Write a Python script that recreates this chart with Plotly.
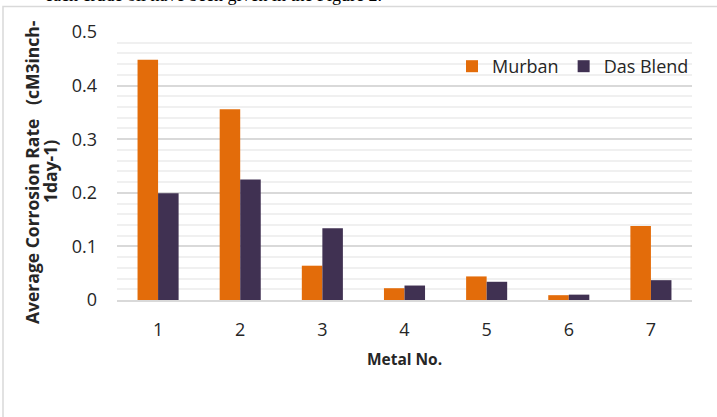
import plotly.graph_objects as go

metals = ["1", "2", "3", "4", "5", "6", "7"]
murban = [0.448, 0.356, 0.064, 0.022, 0.044, 0.009, 0.138]
das_blend = [0.199, 0.225, 0.134, 0.027, 0.034, 0.010, 0.037]

y_title_lines = ["Average Corrosion Rate   (cM3inch-", "1day-1)"]

ORANGE = "#E36C0A"
PURPLE = "#403152"
FONT = "Open Sans"
TXT = "#262626"

W, H = 717, 417
ML, MR, MT, MB = 117, 25, 32, 117
PW, PH = W - ML - MR, H - MT - MB


def px_x(x):
    return (x - ML) / PW


def px_y(y):
    return (H - MB - y) / PH


fig = go.Figure()
fig.add_trace(go.Bar(x=metals, y=murban, name="Murban", marker=dict(color=ORANGE, line=dict(width=0))))
fig.add_trace(go.Bar(x=metals, y=das_blend, name="Das Blend", marker=dict(color=PURPLE, line=dict(width=0))))

fig.update_layout(
    width=W, height=H,
    margin=dict(l=ML, r=MR, t=MT, b=MB, autoexpand=False),
    paper_bgcolor="white", plot_bgcolor="white",
    barmode="group", bargap=0.5, bargroupgap=0,
    font=dict(family=FONT, size=18, color=TXT),
    legend=dict(orientation="h", x=px_x(452), y=px_y(48), xanchor="left", yanchor="top",
                font=dict(size=18, color=TXT), bgcolor="rgba(0,0,0,0)",
                itemwidth=30, tracegroupgap=0),
    showlegend=True,
)

fig.update_xaxes(
    type="category", showgrid=False, showline=True, linecolor="#D9D9D9", linewidth=1.5,
    ticks="", tickfont=dict(size=18, color=TXT), ticklabelstandoff=13,
    title=dict(text="<b>Metal No.</b>", font=dict(size=15.5, color=TXT), standoff=14),
)
fig.update_yaxes(
    range=[0, 0.5], dtick=0.1, showline=False, zeroline=False,
    showgrid=True, gridcolor="#D9D9D9", gridwidth=1.5,
    minor=dict(dtick=0.02, showgrid=True, gridcolor="#F0F0F0", gridwidth=1.5),
    ticks="", tickfont=dict(size=18, color=TXT), ticklabelstandoff=19,
)

# two-line rotated y-axis title with tight line spacing
for line, xpix in zip(y_title_lines, [32, 50]):
    fig.add_annotation(text="<b>%s</b>" % line, textangle=-90,
                       xref="paper", yref="paper", x=px_x(xpix), y=px_y(172),
                       xanchor="center", yanchor="middle", showarrow=False,
                       font=dict(size=17.5, color=TXT))

# outer frame of the chart area
fig.add_shape(type="rect", xref="paper", yref="paper",
              x0=px_x(3), x1=px_x(760), y0=px_y(460), y1=px_y(6.5),
              line=dict(color="#D9D9D9", width=1.5), fillcolor="rgba(0,0,0,0)", layer="below")

# running text line above the chart
fig.add_annotation(text="each crude oil have been given in the Figure 2.",
                   xref="paper", yref="paper", x=px_x(43), y=px_y(7),
                   xanchor="left", yanchor="bottom", showarrow=False,
                   font=dict(family="Liberation Serif", size=18, color="black"))

fig.write_html("out.html")
